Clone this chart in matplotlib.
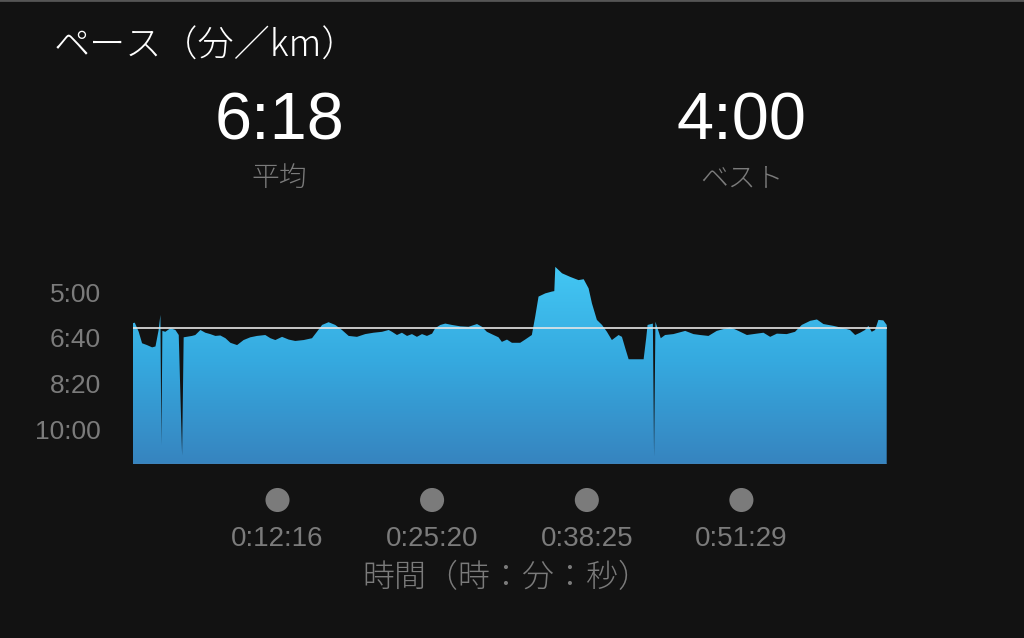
#pace chart (min/km) recreated with a gradient area fill

import matplotlib
import matplotlib.pyplot as plt
import matplotlib.transforms as mtransforms
from matplotlib.patches import PathPatch
from matplotlib.colors import LinearSegmentedColormap
import numpy as np

matplotlib.use('Agg')

#elapsed time [s] and pace [s per km]
elapsed = [3, 12, 32, 49, 74, 100, 117, 133, 142, 147,
           152, 167, 193, 218, 235, 252, 260, 302, 319, 345,
           370, 395, 421, 446, 472, 497, 531, 564, 598, 632,
           674, 700, 725, 759, 793, 826, 869, 911, 936, 962,
           995, 1029, 1063, 1097, 1139, 1181, 1223, 1266, 1300, 1317,
           1342, 1367, 1393, 1418, 1443, 1469, 1494, 1520, 1536, 1562,
           1587, 1621, 1663, 1705, 1748, 1773, 1798, 1832, 1857, 1874,
           1900, 1925, 1967, 1992, 2026, 2043, 2060, 2094, 2128, 2140,
           2145, 2179, 2221, 2263, 2289, 2314, 2331, 2356, 2382, 2407,
           2432, 2466, 2483, 2500, 2517, 2593, 2606, 2613, 2640, 2646,
           2653, 2680, 2702, 2744, 2804, 2846, 2880, 2922, 2964, 3032,
           3074, 3117, 3167, 3201, 3235, 3269, 3319, 3361, 3395, 3438,
           3472, 3505, 3556, 3606, 3640, 3666, 3691, 3716, 3733, 3750,
           3767, 3784, 3809, 3826]
pace = [368, 367, 387, 412, 416, 421, 419, 383, 350, 635,
        385, 387, 379, 383, 394, 657, 399, 396, 394, 383,
        389, 392, 396, 395, 401, 411, 416, 405, 399, 396,
        394, 401, 405, 398, 404, 407, 405, 401, 387, 372,
        366, 372, 383, 396, 398, 392, 389, 387, 383, 387,
        394, 389, 396, 392, 398, 392, 396, 391, 379, 372,
        369, 372, 375, 376, 370, 376, 387, 394, 399, 409,
        404, 411, 411, 404, 394, 354, 310, 303, 299, 298,
        245, 259, 267, 274, 272, 292, 325, 361, 372, 387,
        405, 394, 398, 423, 447, 447, 401, 372, 369, 660,
        365, 401, 394, 392, 385, 392, 394, 396, 385, 377,
        385, 394, 391, 389, 398, 391, 392, 387, 372, 363,
        360, 370, 374, 379, 383, 394, 389, 383, 374, 387,
        383, 361, 362, 372]

avg_pace = 378
best_pace = 240
pace_ticks = [300, 400, 500, 600]
time_ticks = [736, 1520, 2305, 3089]

title = 'ペース（分／km）'
avg_label = '平均'
best_label = 'ベスト'
x_label = '時間（時：分：秒）'

def mmss(s):
    return '%d:%02d' % (s // 60, s % 60)

def hmmss(s):
    return '%d:%02d:%02d' % (s // 3600, s // 60 % 60, s % 60)

bg = '#121212'
grey = '#7b7b7b'
jp = ['Noto Sans CJK JP', 'DejaVu Sans']
num = ['Liberation Sans', 'DejaVu Sans']

W, H = 1024, 638
fig = plt.figure(figsize=(W / 100, H / 100), dpi=100, facecolor=bg)

def fx(px):
    return px / W

def fy(py):
    return 1 - py / H

ax = fig.add_axes([fx(133), fy(464), fx(886.7) - fx(133), (464 - 260) / H])
ax.set_facecolor(bg)
y_bottom, y_top = 676, 230
x0, x1 = elapsed[0], elapsed[-1]
ax.set_xlim(x0, x1)
ax.set_ylim(y_bottom, y_top)

#gradient fill clipped to the area under the pace curve
poly = ax.fill_between(elapsed, pace, y_bottom, facecolor='none', edgecolor='none')
clip = PathPatch(poly.get_paths()[0], transform=ax.transData, facecolor='none', edgecolor='none')
ax.add_patch(clip)
cmap = LinearSegmentedColormap.from_list('pace', ['#44c9f5', '#35a9df', '#3784bf'])
grad = np.linspace(0, 1, 256).reshape(-1, 1)
im = ax.imshow(grad, cmap=cmap, aspect='auto', extent=[x0, x1, y_bottom, y_top],
               origin='upper', interpolation='bilinear', zorder=1)
im.set_clip_path(clip)

ax.axhline(avg_pace, color='#e6e6e6', lw=1.2, zorder=3)
ax.axhline(y_bottom, color='#5b82a6', lw=1.0, zorder=3)

for s in ax.spines.values():
    s.set_visible(False)
ax.set_xticks([])
ax.set_yticks(pace_ticks)
ax.set_yticklabels([mmss(v) for v in pace_ticks], color=grey, fontsize=19, family=num)
ax.tick_params(axis='y', length=0, pad=23)

#time markers: grey dots with labels under the plot
trans = mtransforms.blended_transform_factory(ax.transData, ax.transAxes)
dot_y = (464 - 500) / 204
lab_y = (464 - 539) / 204
ax.scatter(time_ticks, [dot_y] * len(time_ticks), s=300, color=grey, transform=trans,
           clip_on=False, edgecolors='none')
for t in time_ticks:
    ax.text(t, lab_y, hmmss(t), transform=trans, ha='center', va='center',
            color=grey, fontsize=20, family=num)

fig.text(fx(506), fy(578), x_label, ha='center', va='center', color=grey, fontsize=23,
         family=jp, fontweight='light')

fig.text(fx(54), fy(46), title, ha='left', va='center', color='white', fontsize=26,
         family=jp, fontweight='light')
fig.text(fx(279), fy(123), mmss(avg_pace), ha='center', va='center', color='white',
         fontsize=48, family=num)
fig.text(fx(279), fy(178), avg_label, ha='center', va='center', color=grey, fontsize=20,
         family=jp, fontweight='light')
fig.text(fx(742), fy(123), mmss(best_pace), ha='center', va='center', color='white',
         fontsize=48, family=num)
fig.text(fx(742), fy(178), best_label, ha='center', va='center', color=grey, fontsize=20,
         family=jp, fontweight='light')

fig.add_artist(plt.Line2D([0, 1], [1, 1], transform=fig.transFigure, color='#555555', lw=2))

fig.savefig('out.png', dpi=100, facecolor=bg)
